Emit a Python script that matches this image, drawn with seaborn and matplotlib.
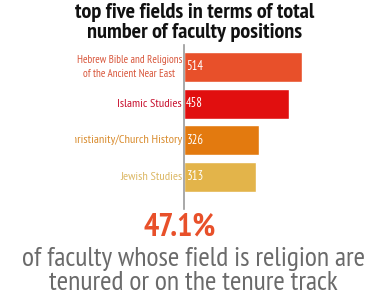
import matplotlib
matplotlib.use("Agg")
import matplotlib.pyplot as plt
import seaborn as sns
from matplotlib.transforms import Bbox, TransformedBbox

categories = ["Hebrew Bible and Religions\nof the Ancient Near East", "Islamic Studies",
              "Christianity/Church History", "Jewish Studies"]
values = [514, 458, 326, 313]
bar_colors = ["#e8502a", "#e10f0f", "#e37a0f", "#e3b44a"]
label_colors = ["#d8553a", "#c8102e", "#d98c2e", "#dcb865"]
title = "top five fields in terms of total\nnumber of faculty positions"
big_stat = "47.1%"
stat_text = "of faculty whose field is religion are\ntenured or on the tenure track"

sns.set_theme(style="white")
fam = ["PT Sans Narrow", "DejaVu Sans"]
plt.rcParams['font.family'] = fam

W, H = 391, 300
fig = plt.figure(figsize=(W/100, H/100), dpi=100)
ax = fig.add_axes([184/W, 1-209/H, (W-184)/W, 164/H])
sns.barplot(x=values, y=categories, hue=categories, palette=bar_colors,
            width=0.82, legend=False, ax=ax, saturation=1, dodge=False)
ax.set_xlim(0, 900)
ax.set_ylim(3.88, -0.6)
ax.set_xticks([]); ax.set_yticks([])
ax.set_xlabel(""); ax.set_ylabel("")
for s in ["top", "right", "bottom"]:
    ax.spines[s].set_visible(False)
ax.spines["left"].set_color("#9a9a9a")
ax.spines["left"].set_linewidth(1.2)

clip = TransformedBbox(Bbox([[75/W, 0], [1, 1]]), fig.transFigure)
for i, (c, v) in enumerate(zip(categories, values)):
    fs = 7.9 if i == 0 else 8.9
    t = ax.text(-8, i, c, ha="right", va="center", fontsize=fs, color=label_colors[i],
                linespacing=1.6, multialignment="center", clip_on=True)
    t.set_clip_box(clip)
    ax.text(8, i, str(v), ha="left", va="center", fontsize=9, color="white")

fig.text(195/W, 1-22.5/H, title, ha="center", va="center", fontsize=16, fontweight="bold",
         color="#111111", linespacing=1.05)
fig.text(180/W, 1-227/H, big_stat, ha="center", va="center", fontsize=23, fontweight="bold",
         color="#e8502a")
fig.text(193/W, 1-271/H, stat_text, ha="center", va="center", fontsize=20,
         color="#6a6a6a", linespacing=0.95)
fig.savefig("out.png", dpi=100, facecolor="white")
